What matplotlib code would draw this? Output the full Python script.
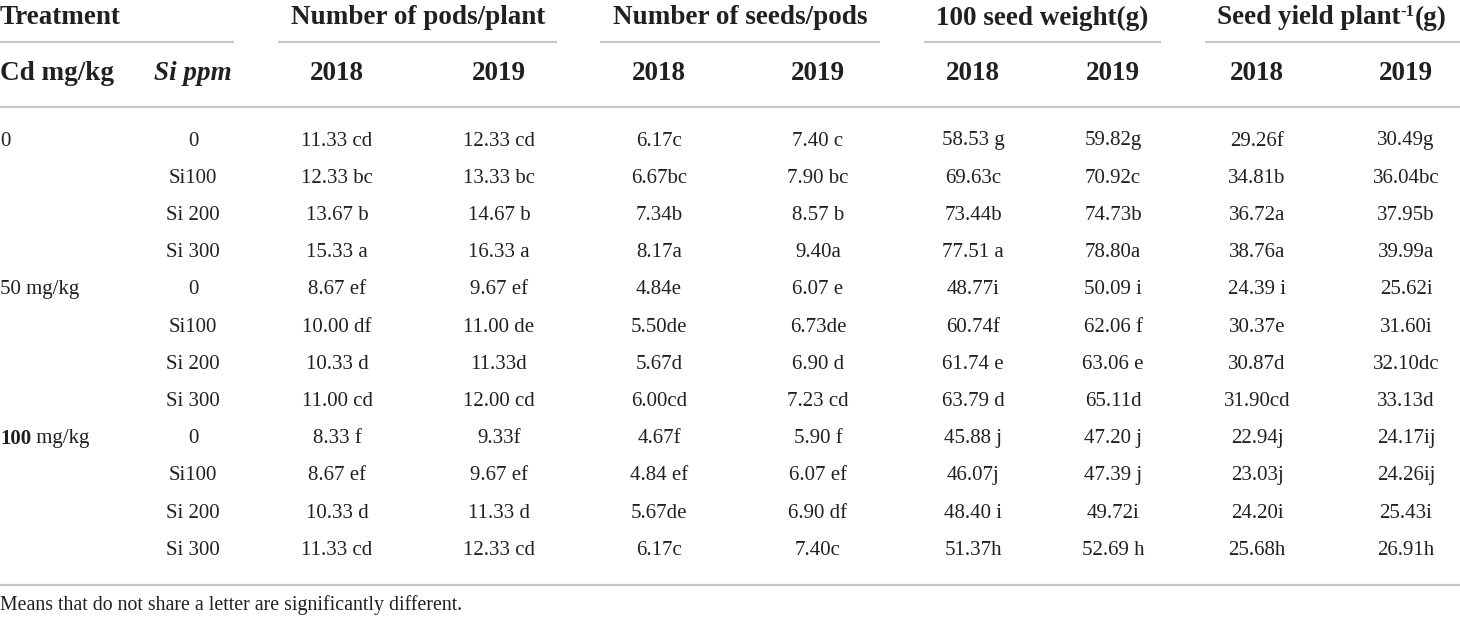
import matplotlib
matplotlib.use("Agg")
import matplotlib.pyplot as plt
from matplotlib.font_manager import FontProperties

# ---------------- data ----------------
cd_levels = ["0", "50", "100"]
si_levels = ["0", "Si100", "Si 200", "Si 300"]
groups = ["Number of pods/plant", "Number of seeds/pods", "100 seed weight(g)", "Seed yield plant"]
years = ["2018", "2019"]

pods_2018 = ["11.33 cd", "12.33 bc", "13.67 b", "15.33 a", "8.67 ef", "10.00 df", "10.33 d", "11.00 cd",
             "8.33 f", "8.67 ef", "10.33 d", "11.33 cd"]
pods_2019 = ["12.33 cd", "13.33 bc", "14.67 b", "16.33 a", "9.67 ef", "11.00 de", "11.33d", "12.00 cd",
             "9.33f", "9.67 ef", "11.33 d", "12.33 cd"]
seeds_2018 = ["6.17c", "6.67bc", "7.34b", "8.17a", "4.84e", "5.50de", "5.67d", "6.00cd",
              "4.67f", "4.84 ef", "5.67de", "6.17c"]
seeds_2019 = ["7.40 c", "7.90 bc", "8.57 b", "9.40a", "6.07 e", "6.73de", "6.90 d", "7.23 cd",
              "5.90 f", "6.07 ef", "6.90 df", "7.40c"]
weight_2018 = ["58.53 g", "69.63c", "73.44b", "77.51 a", "48.77i", "60.74f", "61.74 e", "63.79 d",
               "45.88 j", "46.07j", "48.40 i", "51.37h"]
weight_2019 = ["59.82g", "70.92c", "74.73b", "78.80a", "50.09 i", "62.06 f", "63.06 e", "65.11d",
               "47.20 j", "47.39 j", "49.72i", "52.69 h"]
yield_2018 = ["29.26f", "34.81b", "36.72a", "38.76a", "24.39 i", "30.37e", "30.87d", "31.90cd",
              "22.94j", "23.03j", "24.20i", "25.68h"]
yield_2019 = ["30.49g", "36.04bc", "37.95b", "39.99a", "25.62i", "31.60i", "32.10dc", "33.13d",
              "24.17ij", "24.26ij", "25.43i", "26.91h"]
footnote = "Means that do not share a letter are significantly different."

columns = [pods_2018, pods_2019, seeds_2018, seeds_2019,
           weight_2018, weight_2019, yield_2018, yield_2019]

# ---------------- layout ----------------
W, H = 1460, 619
fig = plt.figure(figsize=(W / 100, H / 100), dpi=100)
ax = fig.add_axes([0, 0, 1, 1])
ax.set_xlim(0, W)
ax.set_ylim(H, 0)
ax.axis("off")

FAM = "Liberation Serif"
TXT = "#231f20"
LINE = "#c8c8c8"
HS = 19.5   # header font size
DS = 15.0   # data font size
fp_hb = FontProperties(family=FAM, weight="bold", size=HS)
fp_hbi = FontProperties(family=FAM, weight="bold", style="italic", size=HS)
fp_sup = FontProperties(family=FAM, weight="bold", size=HS * 0.62)
fp_d = FontProperties(family=FAM, size=DS)
fp_db = FontProperties(family=FAM, weight="bold", size=DS)
fp_f = FontProperties(family=FAM, size=14.3)

col_x = [337, 499, 659, 818, 973, 1113, 1257, 1406]
group_x = [418, 740, 1042, 1332]
group_lines = [(0, 234), (278, 557), (600, 880), (924, 1161), (1205, 1460)]
si_x = 193
y_group, y_gline, y_year, y_hline = 18, 42, 73, 107
row_y0, row_dy = 141, 37.2
y_bottom, y_foot = 585, 605

renderer = fig.canvas.get_renderer()


def width_of(s, fp):
    t = ax.text(0, 0, s, fontproperties=fp)
    w = t.get_window_extent(renderer).width
    t.remove()
    return w


def pieces(x, y, parts, ha="center"):
    """parts: list of (string, fontprops, dy)"""
    widths = [width_of(s, fp) for s, fp, _ in parts]
    total = sum(widths)
    cx = x - total / 2 if ha == "center" else x
    for (s, fp, dy), w in zip(parts, widths):
        ax.text(cx, y + dy, s, fontproperties=fp, color=TXT, ha="left", va="center")
        cx += w


# header row 1
ax.text(0, y_group, "Treatment", fontproperties=fp_hb, color=TXT, ha="left", va="center")
for gx, g in zip(group_x[:3], groups[:3]):
    ax.text(gx, y_group, g, fontproperties=fp_hb, color=TXT, ha="center", va="center")
pieces(group_x[3], y_group, [(groups[3], fp_hb, 0), ("-1", fp_sup, -6), ("(g)", fp_hb, 0)])

for x0, x1 in group_lines:
    ax.plot([x0, x1], [y_gline, y_gline], color=LINE, lw=1.6, solid_capstyle="butt")

# header row 2
ax.text(0, y_year, "Cd mg/kg", fontproperties=fp_hb, color=TXT, ha="left", va="center")
ax.text(si_x, y_year, "Si ppm", fontproperties=fp_hbi, color=TXT, ha="center", va="center")
for i, cx in enumerate(col_x):
    ax.text(cx, y_year, years[i % 2], fontproperties=fp_hb, color=TXT, ha="center", va="center")

ax.plot([0, W], [y_hline, y_hline], color=LINE, lw=1.6, solid_capstyle="butt")

# body
n_rows = len(cd_levels) * len(si_levels)
for r in range(n_rows):
    y = row_y0 + r * row_dy
    ci, si = divmod(r, len(si_levels))
    if si == 0:
        cd = cd_levels[ci]
        if cd == "0":
            ax.text(0, y, cd, fontproperties=fp_d, color=TXT, ha="left", va="center")
        elif cd == "100":
            pieces(0, y, [(cd, fp_db, 0), (" mg/kg", fp_d, 0)], ha="left")
        else:
            ax.text(0, y, cd + " mg/kg", fontproperties=fp_d, color=TXT, ha="left", va="center")
    ax.text(si_x, y, si_levels[si], fontproperties=fp_d, color=TXT, ha="center", va="center")
    for cx, col in zip(col_x, columns):
        ax.text(cx, y, col[r], fontproperties=fp_d, color=TXT, ha="center", va="center")

ax.plot([0, W], [y_bottom, y_bottom], color=LINE, lw=1.6, solid_capstyle="butt")
ax.text(0, y_foot, footnote, fontproperties=fp_f, color=TXT, ha="left", va="center")

fig.savefig("out.png", dpi=100)
